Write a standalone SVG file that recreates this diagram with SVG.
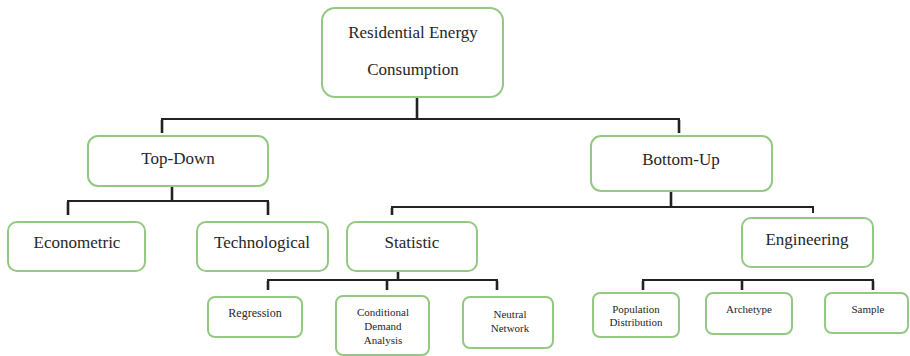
<svg xmlns="http://www.w3.org/2000/svg" width="910" height="356" viewBox="0 0 910 356">
<style>
.box{fill:#fff;stroke:#93c983;stroke-width:2}
.t{font-family:"Liberation Serif","Times New Roman",serif;fill:#262626;text-anchor:middle}
.l{font-size:17px}
.s{font-size:11px}
.c line,.c path{stroke:#222;stroke-width:2;fill:none}
.c .v{stroke-width:2.6}
</style>
<rect width="910" height="356" fill="#fff"/>
<g class="c" id="connectors">
<line class="v" x1="417" y1="97" x2="417" y2="119"/>
<path d="M162 133V119H679V133" stroke="#444"/>
<line class="v" x1="162" y1="120" x2="162" y2="133"/>
<line class="v" x1="679" y1="120" x2="679" y2="133"/>
<line class="v" x1="172" y1="186" x2="172" y2="201"/>
<path d="M68 215V201H268V215"/>
<line class="v" x1="68" y1="202" x2="68" y2="215"/>
<line class="v" x1="268" y1="202" x2="268" y2="215"/>
<line class="v" x1="671" y1="191" x2="671" y2="207"/>
<path d="M392 215V207H813V213"/>
<line class="v" x1="392" y1="208" x2="392" y2="215"/>
<line class="v" x1="398" y1="271" x2="398" y2="280"/>
<path d="M268 290V280H497V290"/>
<line class="v" x1="268" y1="281" x2="268" y2="290"/>
<line class="v" x1="387" y1="281" x2="387" y2="290"/>
<line class="v" x1="497" y1="281" x2="497" y2="290"/>
<path d="M643 290V280H873V290"/>
<line class="v" x1="643" y1="281" x2="643" y2="290"/>
<line class="v" x1="742" y1="281" x2="742" y2="290"/>
<line class="v" x1="873" y1="281" x2="873" y2="290"/>
</g>
<g id="root">
<rect class="box" x="322" y="8" width="181" height="89" rx="13"/>
<text class="t l" x="413" y="38">Residential Energy</text>
<text class="t l" x="413" y="75">Consumption</text>
</g>
<g id="topdown">
<rect class="box" x="88" y="136" width="180" height="50" rx="10"/>
<text class="t l" x="178" y="164">Top-Down</text>
</g>
<g id="bottomup">
<rect class="box" x="591" y="136" width="181" height="55" rx="10"/>
<text class="t l" x="681" y="165">Bottom-Up</text>
</g>
<g id="econometric">
<rect class="box" x="8" y="222" width="137" height="49" rx="9"/>
<text class="t l" x="77" y="248">Econometric</text>
</g>
<g id="technological">
<rect class="box" x="197" y="222" width="131" height="49" rx="9"/>
<text class="t l" x="262" y="248">Technological</text>
</g>
<g id="statistic">
<rect class="box" x="347" y="222" width="130" height="49" rx="9"/>
<text class="t l" x="412" y="248">Statistic</text>
</g>
<g id="engineering">
<rect class="box" x="742" y="218" width="131" height="49" rx="9"/>
<text class="t l" x="807" y="245">Engineering</text>
</g>
<g id="regression">
<rect class="box" x="208" y="297" width="94" height="40" rx="7"/>
<text class="t" font-size="12" x="255" y="317">Regression</text>
</g>
<g id="cda">
<rect class="box" x="336" y="296" width="93" height="59" rx="7"/>
<text class="t s" x="383" y="316">Conditional</text>
<text class="t s" x="383" y="330">Demand</text>
<text class="t s" x="383" y="344">Analysis</text>
</g>
<g id="neural">
<rect class="box" x="463" y="297" width="90" height="51" rx="7"/>
<text class="t s" x="510" y="318">Neutral</text>
<text class="t s" x="510" y="332">Network</text>
</g>
<g id="population">
<rect class="box" x="593" y="293" width="86" height="44" rx="7"/>
<text class="t s" x="636" y="313">Population</text>
<text class="t s" x="636" y="326">Distribution</text>
</g>
<g id="archetype">
<rect class="box" x="706" y="293" width="86" height="41" rx="7"/>
<text class="t s" x="749" y="313">Archetype</text>
</g>
<g id="sample">
<rect class="box" x="825" y="293" width="83" height="40" rx="7"/>
<text class="t s" x="868" y="313">Sample</text>
</g>
</svg>
